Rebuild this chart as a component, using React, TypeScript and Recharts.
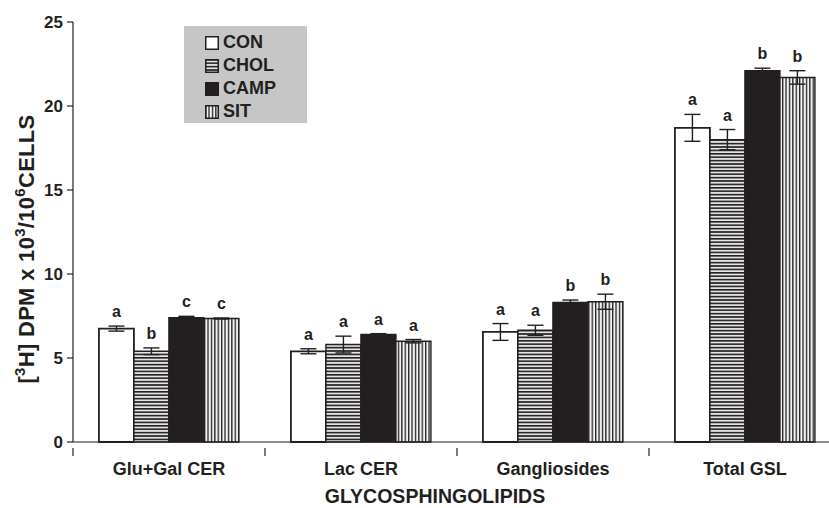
import React from 'react';
import { BarChart, Bar, XAxis, YAxis, ErrorBar, LabelList } from 'recharts';

const categories = ['Glu+Gal CER', 'Lac CER', 'Gangliosides', 'Total GSL'];
const conVals = [6.75, 5.4, 6.55, 18.7];
const conErrs = [0.15, 0.15, 0.5, 0.8];
const cholVals = [5.4, 5.8, 6.65, 18.0];
const cholErrs = [0.2, 0.5, 0.3, 0.6];
const campVals = [7.4, 6.4, 8.3, 22.1];
const campErrs = [0.08, 0.05, 0.15, 0.15];
const sitVals = [7.35, 6.0, 8.35, 21.7];
const sitErrs = [0.03, 0.1, 0.45, 0.4];
const conLetters = ['a', 'a', 'a', 'a'];
const cholLetters = ['b', 'a', 'a', 'a'];
const campLetters = ['c', 'a', 'b', 'b'];
const sitLetters = ['c', 'a', 'b', 'b'];
const yTicks = [0, 5, 10, 15, 20, 25];
const seriesNames = ['CON', 'CHOL', 'CAMP', 'SIT'];

const data = categories.map((name, i) => ({
  name,
  con: conVals[i], conErr: conErrs[i],
  chol: cholVals[i], cholErr: cholErrs[i],
  camp: campVals[i], campErr: campErrs[i],
  sit: sitVals[i], sitErr: sitErrs[i],
}));

const FONT = '"Liberation Sans", Arial, Helvetica, sans-serif';
const DARK = '#231f20';
const CHART_W = 850;
const CHART_H = 508;
const PLOT_LEFT = 73;
const PLOT_RIGHT = 841;
const PLOT_BOTTOM = 442;
const CAT_W = (PLOT_RIGHT - PLOT_LEFT) / categories.length;

const makeLetter = (letters: string[], vals: number[], errs: number[]) => (p: any) => {
  const { x, y, width, height, index } = p;
  if (index == null) return null;
  const v = vals[index];
  const ppu = v ? Number(height) / v : 0;
  const top = Number(y) - errs[index] * ppu;
  return (
    <text x={Number(x) + Number(width) / 2} y={top - 9} textAnchor="middle"
      fontFamily={FONT} fontWeight="bold" fontSize={16} fill={DARK}>
      {letters[index]}
    </text>
  );
};

const XTick = (props: any) => {
  const { x, y, payload } = props;
  return (
    <g>
      <line x1={x - CAT_W / 2} x2={x - CAT_W / 2} y1={y - 2} y2={y + 6} stroke={DARK} strokeWidth={1.2} />
      <text x={x} y={PLOT_BOTTOM + 33} textAnchor="middle" fontFamily={FONT} fontWeight="bold" fontSize={18} fill={DARK}>
        {payload.value}
      </text>
    </g>
  );
};

const PatternIcon = ({ i }: { i: number }) => (
  <svg width={14} height={14} style={{ marginRight: 4, display: 'block' }}>
    <defs>
      <pattern id={`lh${i}`} patternUnits="userSpaceOnUse" width={6} height={3.4}>
        <rect x={0} y={0} width={6} height={3.4} fill="#e4e4e4" />
        <rect x={0} y={0} width={6} height={1.6} fill={DARK} />
      </pattern>
      <pattern id={`lv${i}`} patternUnits="userSpaceOnUse" width={3.4} height={6}>
        <rect x={0} y={0} width={3.4} height={6} fill="#f2f2f2" />
        <rect x={0} y={0} width={1.3} height={6} fill={DARK} />
      </pattern>
    </defs>
    <rect x={0.75} y={0.75} width={12.5} height={12.5}
      fill={i === 0 ? '#ffffff' : i === 1 ? `url(#lh${i})` : i === 2 ? DARK : `url(#lv${i})`}
      stroke={DARK} strokeWidth={1.5} />
  </svg>
);

const LegendBox = () => (
  <div style={{ position: 'absolute', left: 184, top: 26, width: 123, height: 97, background: '#c6c6c6', boxSizing: 'border-box', paddingTop: 5, paddingLeft: 21 }}>
    {seriesNames.map((n, i) => (
      <div key={n} style={{ display: 'flex', alignItems: 'center', height: 23, fontFamily: FONT, fontWeight: 'bold', fontSize: 18, color: DARK }}>
        <PatternIcon i={i} />
        <span>{n}</span>
      </div>
    ))}
  </div>
);

export default function App() {
  return (
    <div style={{ position: 'fixed', left: 0, top: 0, width: 829, height: 508, overflow: 'hidden', background: '#fff' }}>
      <BarChart width={CHART_W} height={CHART_H} data={data}
        margin={{ top: 22, right: CHART_W - PLOT_RIGHT, left: 0, bottom: 0 }}
        barCategoryGap="13.5%" barGap={0}>
        <defs>
          <pattern id="hstripe" patternUnits="userSpaceOnUse" width={6} height={3.4}>
            <rect x={0} y={0} width={6} height={3.4} fill="#e4e4e4" />
            <rect x={0} y={0} width={6} height={1.6} fill={DARK} />
          </pattern>
          <pattern id="vstripe" patternUnits="userSpaceOnUse" width={3.4} height={6}>
            <rect x={0} y={0} width={3.4} height={6} fill="#f2f2f2" />
            <rect x={0} y={0} width={1.3} height={6} fill={DARK} />
          </pattern>
        </defs>
        <XAxis dataKey="name" height={CHART_H - PLOT_BOTTOM} tickLine={false} axisLine={{ stroke: DARK, strokeWidth: 1.2 }}
          tick={<XTick />} interval={0}
          label={{
            content: () => (
              <text x={435} y={503} textAnchor="middle" fontFamily={FONT} fontWeight="bold" fontSize={19.5} fill={DARK}>
                GLYCOSPHINGOLIPIDS
              </text>
            ),
          }} />
        <YAxis domain={[0, 25]} ticks={yTicks} width={PLOT_LEFT} interval={0}
          axisLine={{ stroke: DARK, strokeWidth: 1.2 }} tickLine={{ stroke: DARK, strokeWidth: 1.2 }}
          tickMargin={4}
          tick={{ fontFamily: FONT, fontWeight: 'bold', fontSize: 17, fill: DARK }}
          label={{
            content: () => (
              <text transform="translate(34,249) rotate(-90)" textAnchor="middle" fontFamily={FONT} fontWeight="bold" fontSize={22} letterSpacing={0.3} fill={DARK}>
                <tspan>[</tspan>
                <tspan dy={-9} fontSize={15}>3</tspan>
                <tspan dy={9}>H] DPM x 10</tspan>
                <tspan dy={-9} fontSize={15}>3</tspan>
                <tspan dy={9}>/10</tspan>
                <tspan dy={-9} fontSize={15}>6</tspan>
                <tspan dy={9}>CELLS</tspan>
              </text>
            ),
          }} />
        <Bar dataKey="con" name="CON" fill="#ffffff" stroke={DARK} strokeWidth={1.8} isAnimationActive={false}>
          <ErrorBar dataKey="conErr" width={8} stroke={DARK} strokeWidth={1.4} />
          <LabelList dataKey="con" content={makeLetter(conLetters, conVals, conErrs)} />
        </Bar>
        <Bar dataKey="chol" name="CHOL" fill="url(#hstripe)" stroke={DARK} strokeWidth={1.4} isAnimationActive={false}>
          <ErrorBar dataKey="cholErr" width={8} stroke={DARK} strokeWidth={1.4} />
          <LabelList dataKey="chol" content={makeLetter(cholLetters, cholVals, cholErrs)} />
        </Bar>
        <Bar dataKey="camp" name="CAMP" fill={DARK} stroke={DARK} strokeWidth={1.4} isAnimationActive={false}>
          <ErrorBar dataKey="campErr" width={8} stroke={DARK} strokeWidth={1.4} />
          <LabelList dataKey="camp" content={makeLetter(campLetters, campVals, campErrs)} />
        </Bar>
        <Bar dataKey="sit" name="SIT" fill="url(#vstripe)" stroke={DARK} strokeWidth={1.4} isAnimationActive={false}>
          <ErrorBar dataKey="sitErr" width={8} stroke={DARK} strokeWidth={1.4} />
          <LabelList dataKey="sit" content={makeLetter(sitLetters, sitVals, sitErrs)} />
        </Bar>
      </BarChart>
      <LegendBox />
    </div>
  );
}
